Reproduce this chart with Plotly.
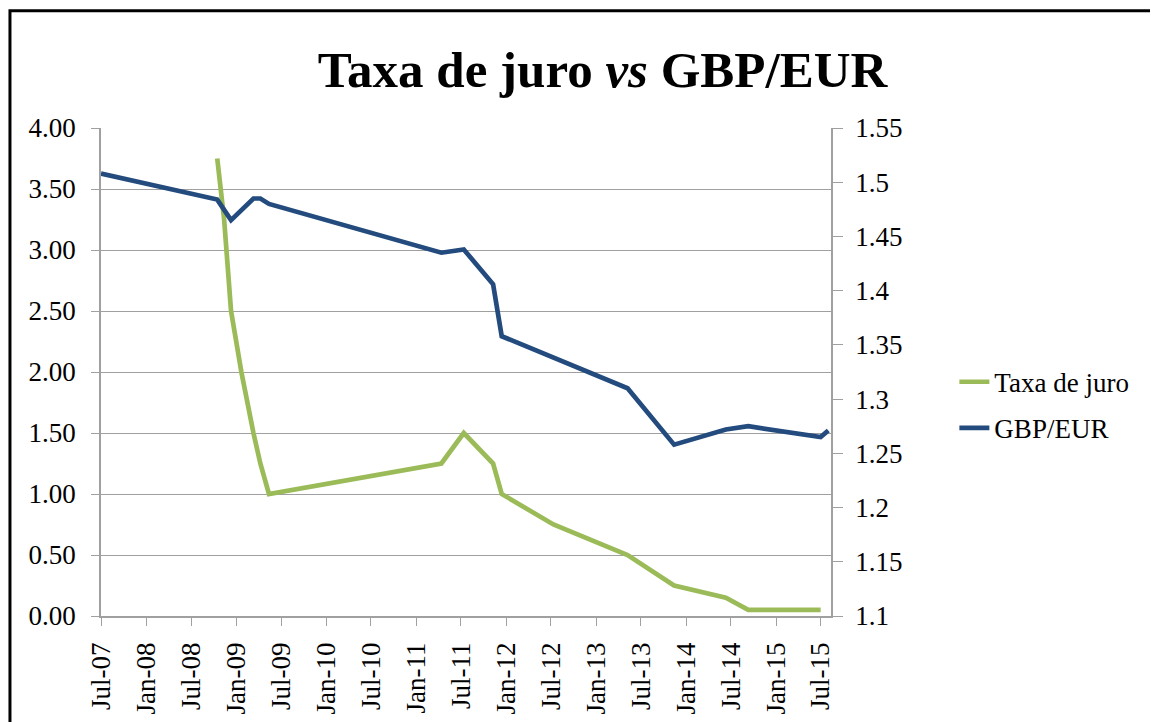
import plotly.graph_objects as go

# ---- data ----
rate_dates = ["2008-10-15", "2008-11-12", "2008-12-10", "2009-01-21", "2009-03-11",
              "2009-04-08", "2009-05-13", "2011-04-13", "2011-07-13", "2011-11-09",
              "2011-12-14", "2012-07-11", "2013-05-08", "2013-11-13", "2014-06-11",
              "2014-09-10", "2015-07-01"]
rate_values = [3.75, 3.25, 2.50, 2.00, 1.50, 1.25, 1.00, 1.25, 1.50, 1.25,
               1.00, 0.75, 0.50, 0.25, 0.15, 0.05, 0.05]

fx_dates = ["2007-07-01", "2008-10-15", "2008-12-10", "2009-03-11", "2009-04-08",
            "2009-05-13", "2011-04-13", "2011-07-13", "2011-11-09", "2011-12-14",
            "2013-05-08", "2013-11-13", "2014-06-11", "2014-09-10", "2015-07-01",
            "2015-08-01"]
fx_values = [1.508, 1.484, 1.465, 1.485, 1.485, 1.480, 1.435, 1.438, 1.406, 1.358,
             1.310, 1.258, 1.272, 1.275, 1.265, 1.271]

x_tick_dates = ["2007-07-01", "2008-01-01", "2008-07-01", "2009-01-01", "2009-07-01",
                "2010-01-01", "2010-07-01", "2011-01-01", "2011-07-01", "2012-01-01",
                "2012-07-01", "2013-01-01", "2013-07-01", "2014-01-01", "2014-07-01",
                "2015-01-01", "2015-07-01"]
x_tick_labels = ["Jul-07", "Jan-08", "Jul-08", "Jan-09", "Jul-09", "Jan-10", "Jul-10",
                 "Jan-11", "Jul-11", "Jan-12", "Jul-12", "Jan-13", "Jul-13", "Jan-14",
                 "Jul-14", "Jan-15", "Jul-15"]

left_ticks = [0, 0.5, 1.0, 1.5, 2.0, 2.5, 3.0, 3.5, 4.0]
left_labels = ["0.00", "0.50", "1.00", "1.50", "2.00", "2.50", "3.00", "3.50", "4.00"]
right_ticks = [1.10, 1.15, 1.20, 1.25, 1.30, 1.35, 1.40, 1.45, 1.50, 1.55]
right_labels = ["1.1", "1.15", "1.2", "1.25", "1.3", "1.35", "1.4", "1.45", "1.5", "1.55"]

GREEN = "#9BBB59"
BLUE = "#234B7E"
GRID = "#A0A0A0"
FONT = "Liberation Serif"

fig = go.Figure()
fig.add_trace(go.Scatter(x=rate_dates, y=rate_values, name="Taxa de juro", mode="lines",
                         line=dict(color=GREEN, width=4.7), yaxis="y", legendgroup="a"))
fig.add_trace(go.Scatter(x=fx_dates, y=fx_values, name="GBP/EUR", mode="lines",
                         line=dict(color=BLUE, width=4.7), yaxis="y2", legendgroup="b"))

fig.update_layout(
    width=1150, height=714,
    margin=dict(l=93, r=327, t=120, b=106, autoexpand=False),
    paper_bgcolor="white", plot_bgcolor="white",
    font=dict(family=FONT, size=27, color="black"),
    title=dict(text="<b>Taxa de juro <i>vs</i> GBP/EUR</b>", x=0.517, xanchor="center",
               y=0.915, yanchor="middle", yref="container",
               font=dict(family=FONT, size=51, color="black")),
    xaxis=dict(type="date", range=["2007-07-01", "2015-08-12"],
               tickvals=x_tick_dates, ticktext=x_tick_labels, tickangle=-90,
               ticks="outside", ticklen=8, tickcolor=GRID, ticklabelstandoff=6,
               showline=True, linecolor=GRID, linewidth=1.5, showgrid=False,
               zeroline=False, tickfont=dict(size=27)),
    yaxis=dict(range=[0, 4], tickvals=left_ticks, ticktext=left_labels,
               ticks="outside", ticklen=8, tickcolor=GRID, ticklabelstandoff=10,
               showline=True, linecolor=GRID, linewidth=1.5,
               showgrid=True, gridcolor=GRID, gridwidth=1.2, zeroline=False),
    yaxis2=dict(range=[1.1, 1.55], tickvals=right_ticks, ticktext=right_labels,
                overlaying="y", side="right", ticks="outside", ticklen=10, tickcolor=GRID,
                ticklabelstandoff=7, showline=True, linecolor=GRID, linewidth=1.5,
                showgrid=False, zeroline=False),
    showlegend=True,
    legend=dict(x=1.169, y=0.432, xanchor="left", yanchor="middle", traceorder="grouped",
                tracegroupgap=8, bgcolor="rgba(0,0,0,0)", font=dict(size=27)),
    shapes=[dict(type="rect", xref="paper", yref="paper", x0=-0.1247, x1=1.6,
                 y0=-0.3, y1=1.2405, line=dict(color="black", width=3), layer="below")],
)

fig.write_html("out.html")
